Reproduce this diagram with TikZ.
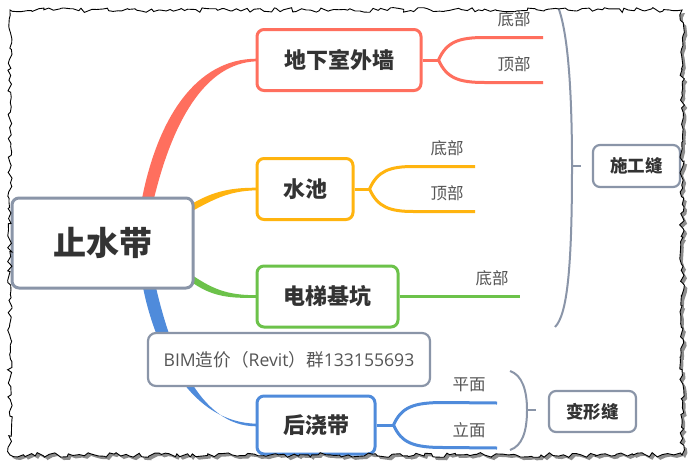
\documentclass[tikz,border=0pt]{standalone}
\usepackage{fontspec}
\setmainfont{Noto Sans CJK SC}
\newfontfamily\latinf{Open Sans}
\usetikzlibrary{decorations.pathmorphing,calc,backgrounds}
\definecolor{cred}{HTML}{FF6F5E}
\definecolor{cyel}{HTML}{FFB40F}
\definecolor{cgrn}{HTML}{6CC24A}
\definecolor{cblu}{HTML}{4F8BDB}
\definecolor{cgry}{HTML}{8A95A8}
\definecolor{ctxt}{HTML}{333333}
\definecolor{csub}{HTML}{555555}
\tikzset{
  torn/.style={decorate,decoration={random steps,segment length=4pt,amplitude=2.4pt}},
  topic/.style={draw,fill=white,rounded corners=7pt,line width=3pt,inner sep=0pt,text=ctxt,font=\bfseries\fontsize{22}{26}\selectfont},
  tag/.style={draw=cgry,fill=white,rounded corners=7pt,line width=2.2pt,inner sep=0pt,text=ctxt,font=\bfseries\fontsize{17.5}{21}\selectfont},
  sub/.style={text=csub,inner sep=0pt,font=\fontsize{16.5}{20}\selectfont},
  fork/.style={line width=3pt},
  brace/.style={draw=cgry,line width=2pt}
}
\begin{document}
\begin{tikzpicture}[x=1pt,y=-1pt]
\useasboundingbox (0,0) rectangle (700,471);
\begin{scope}
\pgfmathsetseed{11}
\clip[torn] (10,10) rectangle (682,455);
% nodes
\node[topic,draw=cgry,minimum width=181pt,minimum height=90pt,font=\bfseries\fontsize{33}{38}\selectfont] (c) at (102.5,243) {止水带};
\node[topic,draw=cred,minimum width=164pt,minimum height=61pt] (wall) at (339,60) {地下室外墙};
\node[topic,draw=cyel,minimum width=96pt,minimum height=61pt] (pool) at (305,189) {水池};
\node[topic,draw=cgrn,minimum width=141pt,minimum height=61pt] (lift) at (327.5,296.5) {电梯基坑};
\node[topic,draw=cblu,minimum width=118pt,minimum height=58pt] (post) at (316,425) {后浇带};
\node[draw=cgry,fill=white,rounded corners=8pt,line width=2.2pt,minimum width=282pt,minimum height=53pt,inner sep=0pt,text=csub,font=\fontsize{17.6}{21}\selectfont] (bim) at (289,359.5) {{\latinf BIM}造价（{\latinf Revit}）群{\latinf 133155693}};
\node[tag,minimum width=87pt,minimum height=42pt] (sg) at (636.5,166) {施工缝};
\node[tag,minimum width=87pt,minimum height=41pt] (bx) at (592.5,411.5) {变形缝};
% forks
\draw[cred,fork] (wall.east) -- ++(16,0) coordinate (rf);
\coordinate (rfa) at (543,37.5);
\coordinate (rfb) at (543,82.5);
\draw[cred,fork] (rf) .. controls ($(rf)+(8,-18)$) and ($(rf)+(20,-22.5)$) .. ($(rf)+(46,-22.5)$) -- (rfa);
\draw[cred,fork] (rf) .. controls ($(rf)+(8,18)$) and ($(rf)+(20,22.5)$) .. ($(rf)+(46,22.5)$) -- (rfb);
\node[sub] (r1) at (514,19) {底部};
\node[sub] (r2) at (514,64) {顶部};
\draw[cyel,fork] (pool.east) -- ++(15,0) coordinate (yf);
\coordinate (yfa) at (475,166.5);
\coordinate (yfb) at (475,211.5);
\draw[cyel,fork] (yf) .. controls ($(yf)+(8,-18)$) and ($(yf)+(20,-22.5)$) .. ($(yf)+(44,-22.5)$) -- (yfa);
\draw[cyel,fork] (yf) .. controls ($(yf)+(8,18)$) and ($(yf)+(20,22.5)$) .. ($(yf)+(44,22.5)$) -- (yfb);
\node[sub] (y1) at (447,148) {底部};
\node[sub] (y2) at (447,193) {顶部};
\coordinate (ge) at (520,296.5);
\draw[cgrn,fork] (lift.east) -- (ge);
\node[sub] (g1) at (492,278) {底部};
\draw[cblu,fork] (post.east) -- ++(17,0) coordinate (bf);
\coordinate (bfa) at (497,403);
\coordinate (bfb) at (497,448);
\draw[cblu,fork] (bf) .. controls ($(bf)+(8,-18)$) and ($(bf)+(20,-22.5)$) .. ($(bf)+(50,-22.5)$) -- (bfa);
\draw[cblu,fork] (bf) .. controls ($(bf)+(8,18)$) and ($(bf)+(20,22.5)$) .. ($(bf)+(50,22.5)$) -- (bfb);
\node[sub] (b1) at (469,385) {平面};
\node[sub] (b2) at (469,430) {立面};
% braces
\coordinate (sgt) at (551,-4);
\coordinate (sgm) at (572,166);
\coordinate (sgb) at (555,327);
\draw[brace] (sgt) .. controls (564,6) and (572,60) .. (sgm) .. controls (572,270) and (567,315) .. (sgb);
\draw[brace] (sgm) -- (sg.west -| 581,0);
\coordinate (bxt) at (510,371);
\coordinate (bxm) at (527,410);
\coordinate (bxb) at (510,450);
\draw[brace] (bxt) .. controls (522,375) and (527,390) .. (bxm) .. controls (527,432) and (522,446) .. (bxb);
\draw[brace] (bxm) -- (536,410);
\end{scope}
% paper, shadow and branches under the nodes
\begin{scope}[on background layer]
\pgfmathsetseed{11}
\fill[black!45,torn] (13,13) rectangle (685,458);
\pgfmathsetseed{11}
\fill[white,torn] (10,10) rectangle (682,455);
\end{scope}
\begin{scope}[on background layer]
\pgfmathsetseed{11}
\clip[torn] (10,10) rectangle (682,455);
\fill[cred] ($(c.north)+(39.5,2)$) .. controls (158,118) and (196,58.8) .. ($(wall.west)+(1,-1.3)$) -- ($(wall.west)+(1,1.3)$) .. controls (204,63) and (172,124) .. ($(c.north)+(51.5,2)$) -- cycle;
\fill[cyel] (185,208) .. controls (210,192) and (228,187.7) .. ($(pool.west)+(1,-1.3)$) -- ($(pool.west)+(1,1.3)$) .. controls (228,191) and (214,199) .. (185,215) -- cycle;
\fill[cgrn] (185,270) .. controls (212,290) and (228,295.2) .. ($(lift.west)+(1,-1.3)$) -- ($(lift.west)+(1,1.3)$) .. controls (226,298.5) and (208,296) .. (185,277) -- cycle;
\fill[cblu] ($(c.south)+(40.5,-2)$) .. controls (156,352) and (192,422.5) .. ($(post.west)+(1,-1.3)$) -- ($(post.west)+(1,1.3)$) .. controls (198,426.5) and (170,348) .. ($(c.south)+(53.5,-2)$) -- cycle;
\end{scope}
\pgfmathsetseed{11}
\draw[black,line width=0.9pt,torn] (10,10) rectangle (682,455);
\end{tikzpicture}
\end{document}
